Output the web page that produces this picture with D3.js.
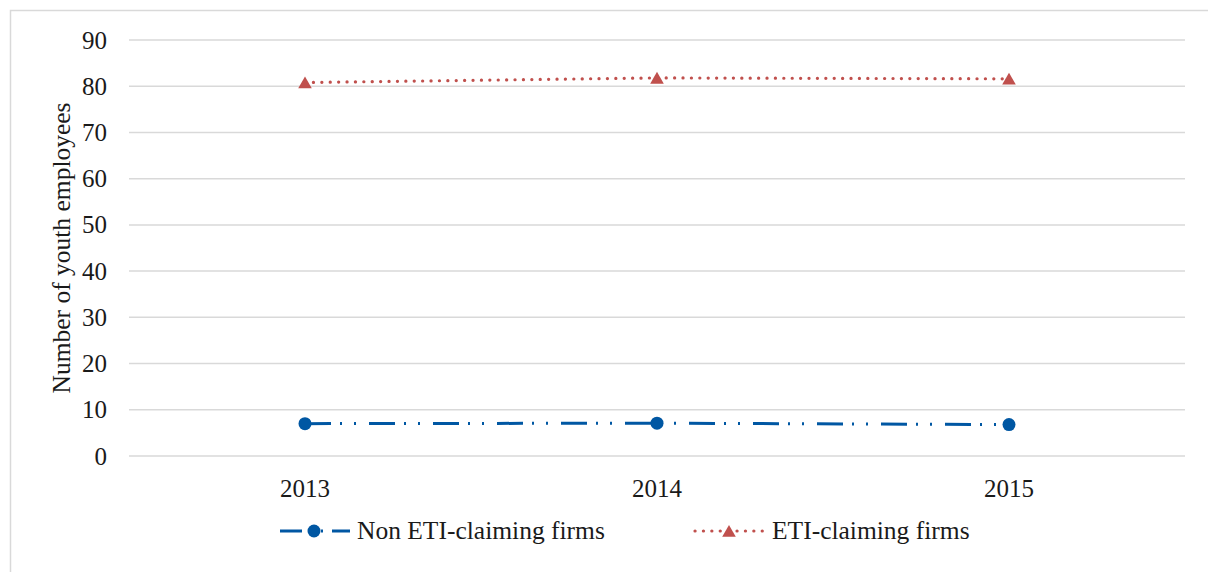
<!DOCTYPE html>
<html>
<head>
<meta charset="utf-8">
<script src="https://cdn.jsdelivr.net/npm/d3@7"></script>
<style>
  body { margin: 0; background: #fff; }
  svg text { font-family: 'Liberation Serif', 'DejaVu Serif', serif; fill: #1a1a1a; }
</style>
</head>
<body>
<svg id="chart"></svg>
<script>
// data
var years = ["2013", "2014", "2015"];
var nonEti = [7.0, 7.1, 6.8];
var eti = [80.8, 81.8, 81.6];
var yTicks = [0, 10, 20, 30, 40, 50, 60, 70, 80, 90];
var seriesNames = ["Non ETI-claiming firms", "ETI-claiming firms"];

// dimensions
var width = 1208, height = 572;
var margin = { top: 40, right: 23, bottom: 116, left: 129 };
var fontSize = "25px";

var svg = d3.select("#chart")
    .attr("width", width)
    .attr("height", height);

// outer frame (runs off the right and bottom edges)
svg.append("rect")
    .attr("x", 10.5).attr("y", 10.5)
    .attr("width", 1220).attr("height", 600)
    .attr("fill", "none")
    .attr("stroke", "#d9d9d9")
    .attr("stroke-width", 1.5);

var x = d3.scaleBand()
    .domain(years)
    .range([margin.left, width - margin.right]);

var y = d3.scaleLinear()
    .domain([0, 90])
    .range([height - margin.bottom, margin.top]);

// gridlines
svg.append("g")
    .selectAll("line")
    .data(yTicks)
    .enter().append("line")
    .attr("x1", margin.left)
    .attr("x2", width - margin.right)
    .attr("y1", d => y(d))
    .attr("y2", d => y(d))
    .attr("stroke", "#d9d9d9")
    .attr("stroke-width", 1.5);

// y axis
var yAxis = svg.append("g")
    .attr("transform", "translate(" + margin.left + ",0)")
    .call(d3.axisLeft(y).tickValues(yTicks).tickSize(0).tickPadding(22));
yAxis.select(".domain").remove();
yAxis.selectAll("text")
    .style("font-size", fontSize)
    .style("font-family", "'Liberation Serif', serif")
    .attr("fill", "#1a1a1a");

// x axis
var xAxis = svg.append("g")
    .attr("transform", "translate(0," + y(0) + ")")
    .call(d3.axisBottom(x).tickSize(0).tickPadding(23));
xAxis.select(".domain").remove();
xAxis.selectAll("text")
    .style("font-size", fontSize)
    .style("font-family", "'Liberation Serif', serif")
    .attr("fill", "#1a1a1a");

// y title
svg.append("text")
    .attr("transform", "translate(70," + ((y(0) + y(90)) / 2) + ") rotate(-90)")
    .attr("text-anchor", "middle")
    .style("font-size", "25.5px")
    .text("Number of youth employees");

var line = d3.line()
    .x((d, i) => x(years[i]) + x.bandwidth() / 2)
    .y(d => y(d));

var blue = "#0057a3", red = "#c0504d";
var blueDash = "26,9,2,12,2,13";
var redDash = "0.1,8.3";

// blue series
svg.append("path")
    .datum(nonEti)
    .attr("d", line)
    .attr("fill", "none")
    .attr("stroke", blue)
    .attr("stroke-width", 3)
    .attr("stroke-dasharray", blueDash);

svg.append("g")
    .selectAll("circle")
    .data(nonEti)
    .enter().append("circle")
    .attr("cx", (d, i) => x(years[i]) + x.bandwidth() / 2)
    .attr("cy", d => y(d))
    .attr("r", 6.5)
    .attr("fill", blue);

// red series
svg.append("path")
    .datum(eti)
    .attr("d", line)
    .attr("fill", "none")
    .attr("stroke", red)
    .attr("stroke-width", 3.2)
    .attr("stroke-linecap", "round")
    .attr("stroke-dasharray", redDash);

var tri = d3.symbol().type(d3.symbolTriangle).size(80);
svg.append("g")
    .selectAll("path")
    .data(eti)
    .enter().append("path")
    .attr("d", tri)
    .attr("transform", (d, i) => "translate(" + (x(years[i]) + x.bandwidth() / 2) + "," + (y(d) + 1.8) + ")")
    .attr("fill", red);

// legend
var legY = 531;
var leg = svg.append("g");

leg.append("line")
    .attr("x1", 280).attr("x2", 350)
    .attr("y1", legY).attr("y2", legY)
    .attr("stroke", blue).attr("stroke-width", 3)
    .attr("stroke-dasharray", "22,8,2,9,2,9");
leg.append("circle")
    .attr("cx", 314).attr("cy", legY).attr("r", 6.5)
    .attr("fill", blue);
leg.append("text")
    .attr("x", 357).attr("y", legY + 8)
    .style("font-size", "25.5px")
    .text(seriesNames[0]);

leg.append("line")
    .attr("x1", 695).attr("x2", 765)
    .attr("y1", legY).attr("y2", legY)
    .attr("stroke", red).attr("stroke-width", 3.2)
    .attr("stroke-linecap", "round")
    .attr("stroke-dasharray", redDash);
leg.append("path")
    .attr("d", tri)
    .attr("transform", "translate(729," + (legY + 1.8) + ")")
    .attr("fill", red);
leg.append("text")
    .attr("x", 772).attr("y", legY + 8)
    .style("font-size", "25.5px")
    .text(seriesNames[1]);
</script>
</body>
</html>
